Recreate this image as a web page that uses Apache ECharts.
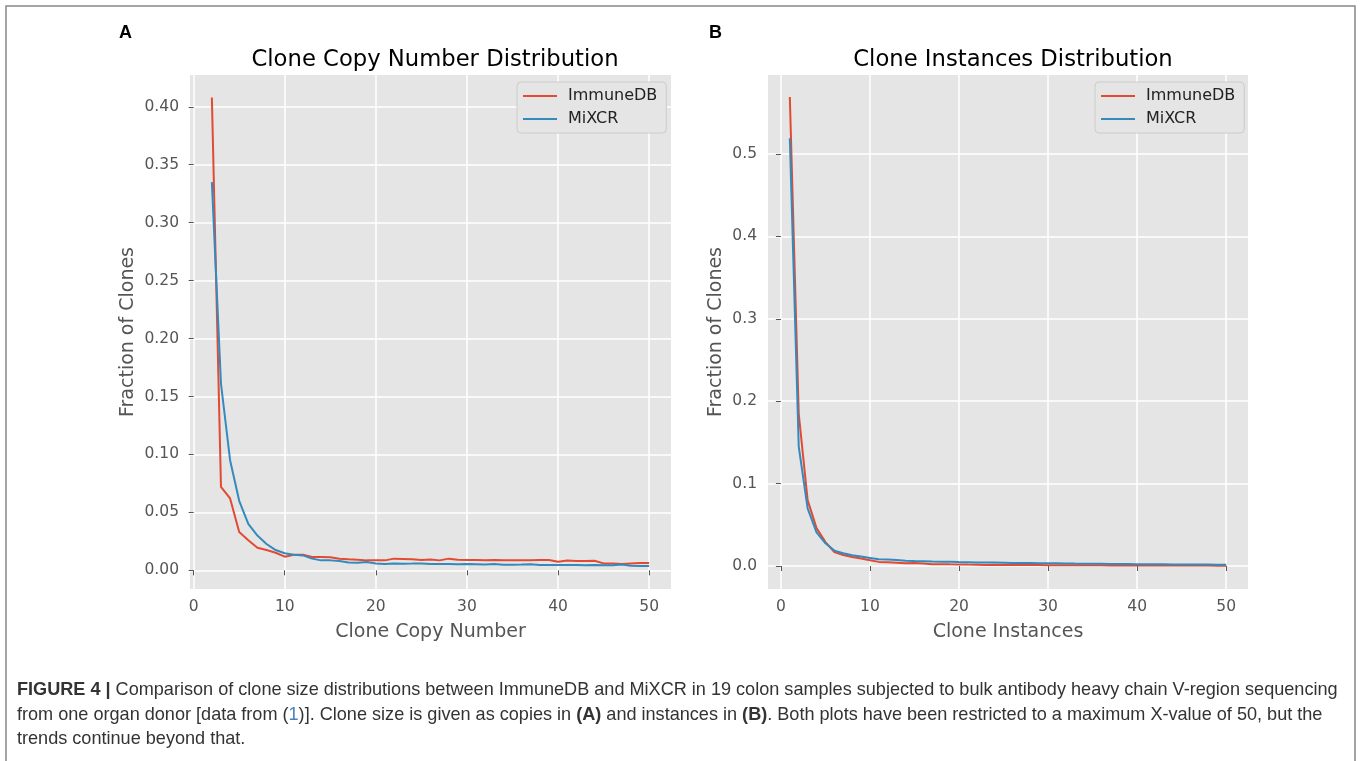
<!DOCTYPE html>
<html>
<head>
<meta charset="utf-8">
<title>Clone size distributions</title>
<script src="https://cdn.jsdelivr.net/npm/echarts@6.0.0/dist/echarts.min.js"></script>
<style>
    html, body {
        margin: 0;
        padding: 0;
        background: #fff;
    }
    #chart {
        width: 1360px;
        height: 761px;
    }
</style>
</head>
<body>
<div id="chart"></div>
<script>
// panel A: clone copy number (x = 2..50)
const copyNumbers = [2, 3, 4, 5, 6, 7, 8, 9, 10, 11, 12, 13, 14, 15, 16, 17, 18, 19, 20, 21, 22, 23, 24, 25, 26,
    27, 28, 29, 30, 31, 32, 33, 34, 35, 36, 37, 38, 39, 40, 41, 42, 43, 44, 45, 46, 47, 48, 49, 50];
const copyImmuneDB = [0.408, 0.072, 0.062, 0.033, 0.026, 0.0195, 0.0175, 0.0152, 0.0118, 0.0135, 0.0135, 0.0115,
    0.0115, 0.0112, 0.0101, 0.0095, 0.0092, 0.0086, 0.0086, 0.0086, 0.0101, 0.0098, 0.0095, 0.009, 0.0093, 0.0086,
    0.0101, 0.0092, 0.009, 0.009, 0.0086, 0.0089, 0.0086, 0.0087, 0.0087, 0.0086, 0.0089, 0.0089, 0.0075, 0.0085,
    0.008, 0.008, 0.0082, 0.006, 0.0058, 0.0054, 0.006, 0.0063, 0.0063];
const copyMiXCR = [0.335, 0.161, 0.095, 0.06, 0.04, 0.03, 0.0227, 0.0175, 0.0147, 0.0135, 0.0129, 0.0101, 0.0086,
    0.0086, 0.008, 0.0068, 0.0066, 0.0072, 0.0059, 0.0055, 0.006, 0.0057, 0.0058, 0.006, 0.0055, 0.0055, 0.0055,
    0.0052, 0.0055, 0.0053, 0.005, 0.0055, 0.0049, 0.0049, 0.005, 0.0052, 0.0046, 0.0046, 0.0046, 0.0046, 0.0046,
    0.0045, 0.0046, 0.0043, 0.0044, 0.005, 0.004, 0.0037, 0.0037];

// panel B: clone instances (x = 1..50)
const instances = [1, 2, 3, 4, 5, 6, 7, 8, 9, 10, 11, 12, 13, 14, 15, 16, 17, 18, 19, 20, 21, 22, 23, 24, 25, 26,
    27, 28, 29, 30, 31, 32, 33, 34, 35, 36, 37, 38, 39, 40, 41, 42, 43, 44, 45, 46, 47, 48, 49, 50];
const instImmuneDB = [0.569, 0.185, 0.08, 0.046, 0.029, 0.017, 0.0134, 0.011, 0.009, 0.0069, 0.005, 0.0045, 0.004,
    0.0033, 0.0035, 0.003, 0.002, 0.0022, 0.002, 0.0019, 0.0017, 0.0016, 0.0012, 0.0014, 0.0013, 0.0012, 0.0012,
    0.0011, 0.0011, 0.001, 0.001, 0.0009, 0.0009, 0.0008, 0.0008, 0.0008, 0.0007, 0.0007, 0.0007, 0.0007, 0.0006,
    0.0006, 0.0006, 0.0006, 0.0005, 0.0005, 0.0005, 0.0005, 0.0004, 0.0004];
const instMiXCR = [0.519, 0.145, 0.07, 0.0407, 0.0276, 0.0187, 0.0154, 0.013, 0.0114, 0.0098, 0.0081, 0.0078,
    0.0072, 0.0065, 0.006, 0.0058, 0.0055, 0.0053, 0.0052, 0.0048, 0.0046, 0.0044, 0.0043, 0.0042, 0.004, 0.0038,
    0.0036, 0.0035, 0.0034, 0.0033, 0.0032, 0.0031, 0.0029, 0.0028, 0.0027, 0.0026, 0.0025, 0.0024, 0.0023, 0.0022,
    0.0022, 0.0021, 0.002, 0.0019, 0.0019, 0.0018, 0.0017, 0.0017, 0.0016, 0.0015];

// tick labels
const xTicks = [0, 10, 20, 30, 40, 50];
const yTicksA = [0, 0.05, 0.1, 0.15, 0.2, 0.25, 0.3, 0.35, 0.4];
const yTicksB = [0, 0.1, 0.2, 0.3, 0.4, 0.5];

const RED = '#E24A33';
const BLUE = '#348ABD';
const PLOT_FONT = 'DejaVu Sans';

function pairs(xs, ys) {
    return xs.map((x, i) => [x, ys[i]]);
}

function xAxisOf(gridIndex, name, min, max) {
    return {
        type: 'value',
        gridIndex: gridIndex,
        min: min,
        max: max,
        name: name,
        nameLocation: 'middle',
        nameGap: 34,
        nameTextStyle: { color: '#555', fontSize: 19, fontFamily: PLOT_FONT },
        axisLine: { show: false },
        axisTick: { show: true, length: 5, customValues: xTicks, lineStyle: { color: '#555', width: 1 } },
        axisLabel: { customValues: xTicks, color: '#555', fontSize: 15.5, fontFamily: PLOT_FONT, margin: 10 },
        splitLine: { show: true, lineStyle: { color: '#fff', width: 1.5 } },
    };
}

function yAxisOf(gridIndex, min, max, ticks, digits, gap) {
    return {
        type: 'value',
        gridIndex: gridIndex,
        min: min,
        max: max,
        name: 'Fraction of Clones',
        nameLocation: 'middle',
        nameGap: gap,
        nameTextStyle: { color: '#555', fontSize: 19, fontFamily: PLOT_FONT },
        axisLine: { show: false },
        axisTick: { show: true, length: 5, customValues: ticks, lineStyle: { color: '#555', width: 1 } },
        axisLabel: {
            customValues: ticks,
            color: '#555',
            fontSize: 15.5,
            fontFamily: PLOT_FONT,
            margin: 11,
            formatter: (v) => v.toFixed(digits),
        },
        splitLine: { show: true, lineStyle: { color: '#fff', width: 1.5 } },
    };
}

function legendOf(left) {
    return {
        orient: 'vertical',
        left: left,
        top: 82,
        padding: [6, 9, 6, 6],
        itemGap: 7,
        itemWidth: 34,
        itemHeight: 2,
        icon: 'rect',
        backgroundColor: '#E5E5E5',
        borderColor: '#CCCCCC',
        borderWidth: 1,
        borderRadius: 4,
        data: ['ImmuneDB', 'MiXCR'],
        textStyle: { color: '#222', fontSize: 16, fontFamily: PLOT_FONT, padding: [0, 0, 0, 6] },
    };
}

function lineSeries(name, color, xi, data) {
    return {
        name: name,
        type: 'line',
        xAxisIndex: xi,
        yAxisIndex: xi,
        data: data,
        showSymbol: false,
        symbol: 'none',
        color: color,
        lineStyle: { color: color, width: 2 },
        animation: false,
    };
}

const capFont = 'Liberation Sans';
const capSize = 18.1;
const capStyle = { fontSize: capSize, fontFamily: capFont, fill: '#333' };
const capRich = {
    b: { fontSize: capSize, fontFamily: capFont, fontWeight: 'bold', fill: '#333', color: '#333' },
    l: { fontSize: capSize, fontFamily: capFont, fill: '#4a7fc0', color: '#4a7fc0' },
};
const captionLines = [
    '{b|FIGURE 4 |} Comparison of clone size distributions between ImmuneDB and MiXCR in 19 colon samples subjected to bulk antibody heavy chain V-region sequencing',
    'from one organ donor [data from ({l|1})]. Clone size is given as copies in {b|(A)} and instances in {b|(B)}. Both plots have been restricted to a maximum X-value of 50, but the',
    'trends continue beyond that.',
];

let myChart = echarts.init(document.getElementById('chart'), null, { renderer: 'canvas' });
myChart.setOption({
    animation: false,
    backgroundColor: '#fff',
    title: [
        {
            text: 'Clone Copy Number Distribution',
            left: 430,
            top: 44,
            textAlign: 'center',
            textStyle: { color: '#000', fontSize: 22.7, fontWeight: 'normal', fontFamily: PLOT_FONT },
        },
        {
            text: 'Clone Instances Distribution',
            left: 1008,
            top: 44,
            textAlign: 'center',
            textStyle: { color: '#000', fontSize: 22.7, fontWeight: 'normal', fontFamily: PLOT_FONT },
        },
    ],
    grid: [
        { left: 190, right: 689, top: 75, bottom: 172, show: true, backgroundColor: '#E5E5E5', borderWidth: 0 },
        { left: 768, right: 112, top: 75, bottom: 172, show: true, backgroundColor: '#E5E5E5', borderWidth: 0 },
    ],
    legend: [legendOf(517), legendOf(1095)],
    xAxis: [xAxisOf(0, 'Clone Copy Number', -0.4, 52.4), xAxisOf(1, 'Clone Instances', -1.45, 52.45)],
    yAxis: [
        yAxisOf(0, -0.0161, 0.4274, yTicksA, 2, 52),
        yAxisOf(1, -0.0279, 0.5958, yTicksB, 1, 42),
    ],
    series: [
        lineSeries('ImmuneDB', RED, 0, pairs(copyNumbers, copyImmuneDB)),
        lineSeries('MiXCR', BLUE, 0, pairs(copyNumbers, copyMiXCR)),
        lineSeries('ImmuneDB', RED, 1, pairs(instances, instImmuneDB)),
        lineSeries('MiXCR', BLUE, 1, pairs(instances, instMiXCR)),
    ],
    graphic: [
        // outer frame of the figure
        {
            type: 'rect',
            silent: true,
            shape: { x: 6, y: 6, width: 1349, height: 800 },
            style: { fill: 'none', stroke: '#888', lineWidth: 1.5 },
        },
        {
            type: 'text',
            style: { x: 119, y: 33, text: 'A', fontSize: 18, fontWeight: 'bold', fontFamily: 'Liberation Sans', fill: '#000', verticalAlign: 'middle' },
        },
        {
            type: 'text',
            style: { x: 709, y: 33, text: 'B', fontSize: 18, fontWeight: 'bold', fontFamily: 'Liberation Sans', fill: '#000', verticalAlign: 'middle' },
        },
        ...captionLines.map((line, i) => ({
            type: 'text',
            style: Object.assign({ x: 17, y: 690 + i * 24.5, text: line, rich: capRich, verticalAlign: 'middle' }, capStyle),
        })),
    ],
});
</script>
</body>
</html>
